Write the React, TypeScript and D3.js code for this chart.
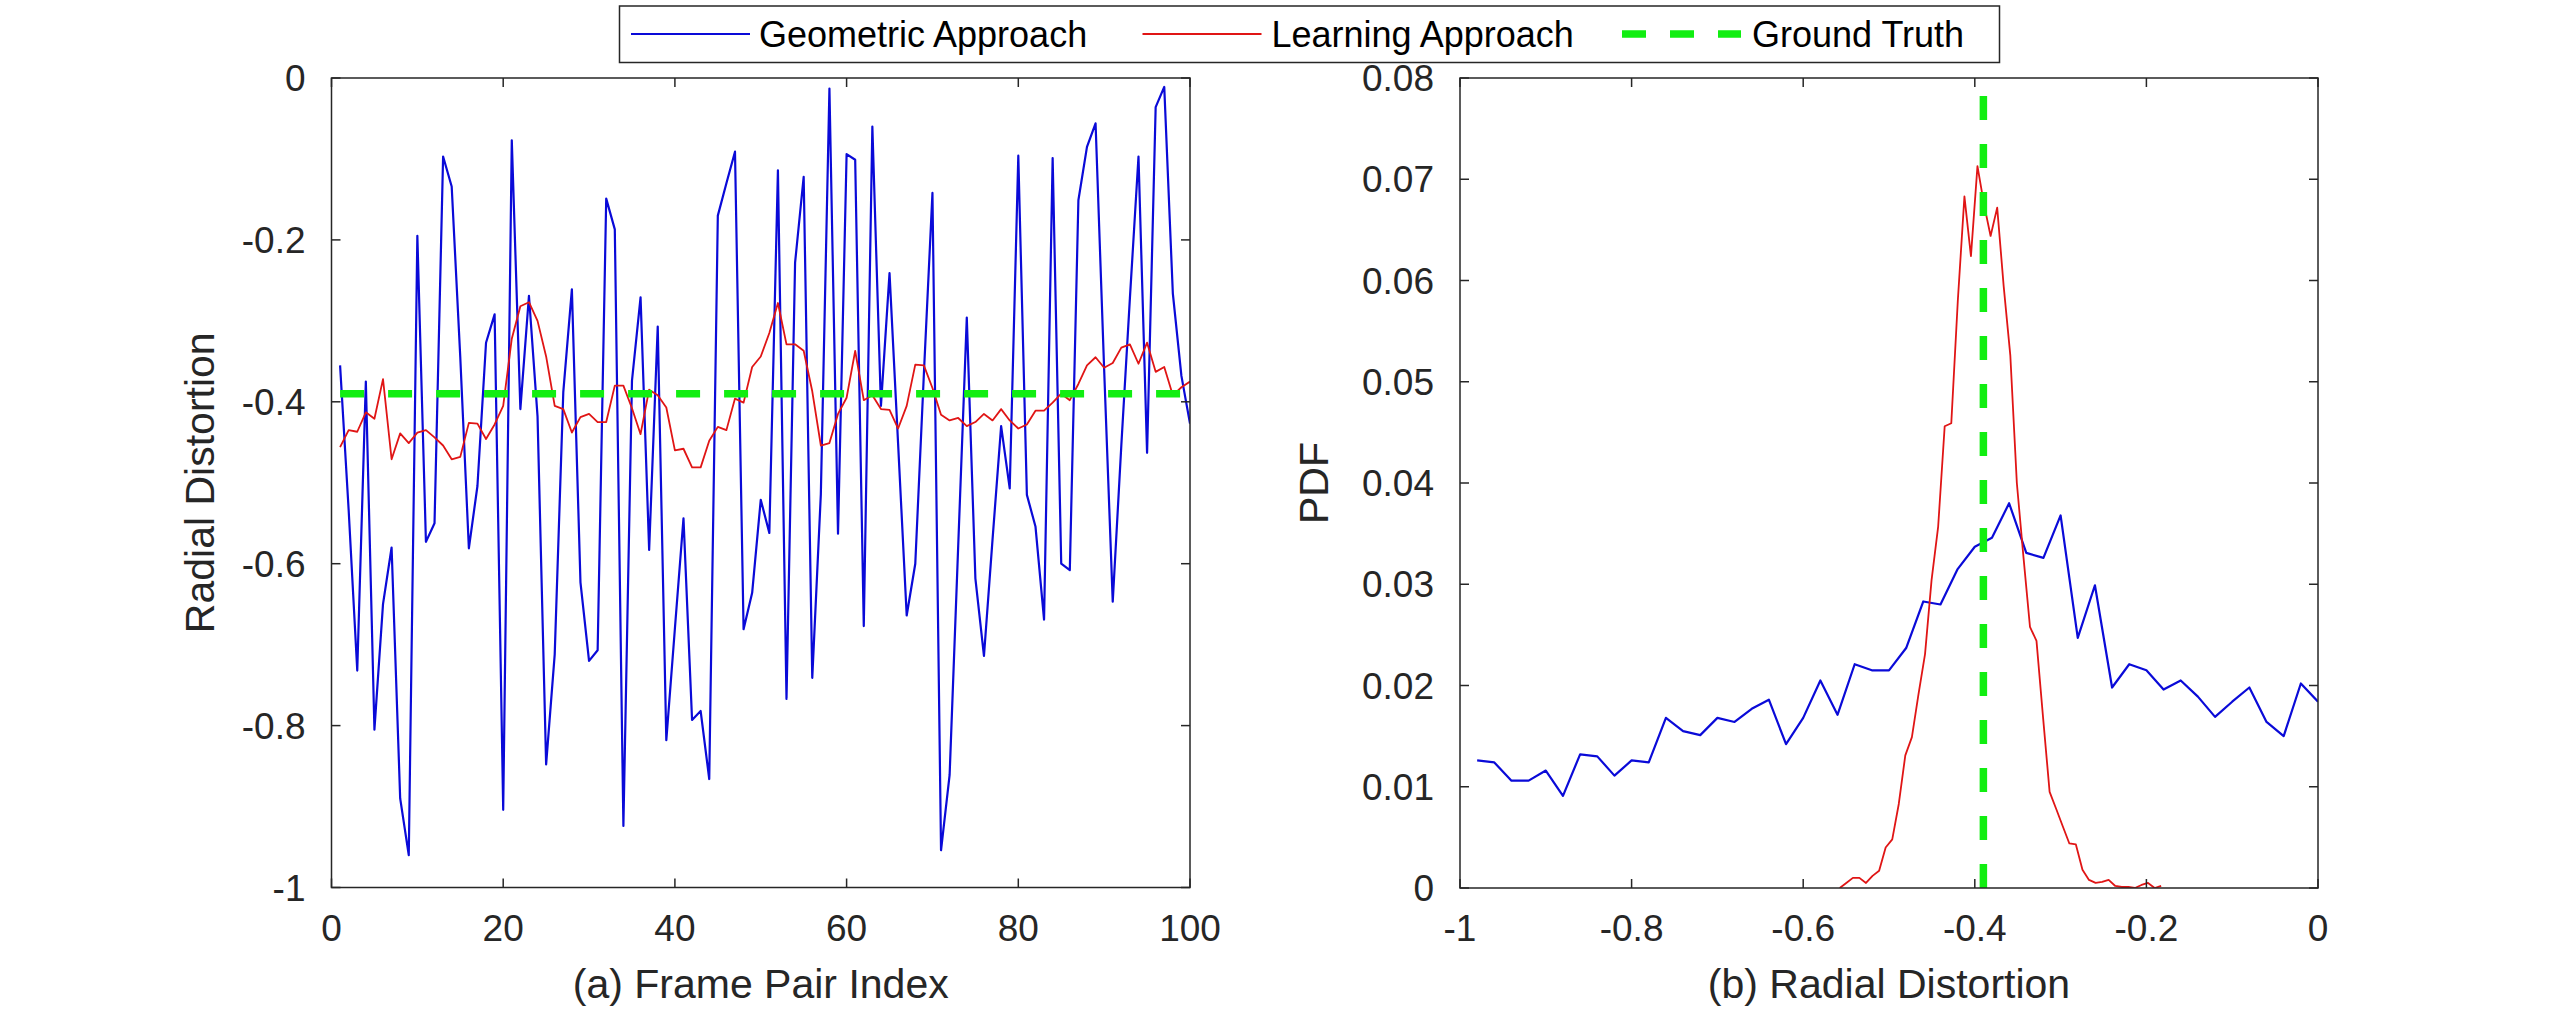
import React from "react";
import * as d3 from "d3";

// ---------- data ----------
const geometricRadial = [
  -0.355, -0.534, -0.732, -0.375, -0.805, -0.65, -0.58, -0.89, -0.96, -0.195,
  -0.573, -0.55, -0.097, -0.134, -0.345, -0.581, -0.504, -0.327, -0.292, -0.904,
  -0.077, -0.409, -0.269, -0.418, -0.848, -0.712, -0.388, -0.261, -0.623, -0.72,
  -0.707, -0.149, -0.187, -0.924, -0.374, -0.271, -0.583, -0.307, -0.818, -0.68,
  -0.544, -0.793, -0.782, -0.866, -0.17, -0.13, -0.091, -0.681, -0.636, -0.521,
  -0.562, -0.114, -0.767, -0.228, -0.122, -0.741, -0.514, -0.013, -0.563, -0.094,
  -0.101, -0.677, -0.06, -0.405, -0.241, -0.452, -0.664, -0.6, -0.366, -0.142,
  -0.954, -0.861, -0.578, -0.296, -0.618, -0.714, -0.57, -0.43, -0.507, -0.096,
  -0.515, -0.554, -0.669, -0.099, -0.6, -0.608, -0.151, -0.085, -0.056, -0.36,
  -0.647, -0.454, -0.272, -0.097, -0.463, -0.036, -0.011, -0.266, -0.368, -0.427,
];

const learningRadial = [
  -0.456, -0.435, -0.437, -0.413, -0.421, -0.372, -0.471, -0.439, -0.451, -0.438,
  -0.435, -0.444, -0.454, -0.471, -0.468, -0.426, -0.427, -0.446, -0.428, -0.405,
  -0.322, -0.282, -0.277, -0.3, -0.344, -0.405, -0.409, -0.438, -0.419, -0.415,
  -0.425, -0.425, -0.38, -0.38, -0.408, -0.44, -0.385, -0.392, -0.407, -0.46,
  -0.458, -0.481, -0.481, -0.448, -0.431, -0.435, -0.396, -0.401, -0.357, -0.344,
  -0.315, -0.278, -0.329, -0.329, -0.337, -0.387, -0.454, -0.451, -0.415, -0.395,
  -0.337, -0.398, -0.392, -0.409, -0.41, -0.433, -0.405, -0.354, -0.355, -0.383,
  -0.416, -0.423, -0.42, -0.43, -0.425, -0.415, -0.423, -0.409, -0.423, -0.433,
  -0.428, -0.411, -0.411, -0.401, -0.39, -0.398, -0.378, -0.355, -0.345, -0.358,
  -0.352, -0.333, -0.329, -0.353, -0.327, -0.363, -0.357, -0.392, -0.382, -0.375,
];

const groundTruth = -0.39;

const pdfGeometricX = [
  -0.98, -0.96, -0.94, -0.92, -0.9, -0.88, -0.86, -0.84, -0.82, -0.8,
  -0.78, -0.76, -0.74, -0.72, -0.7, -0.68, -0.66, -0.64, -0.62, -0.6,
  -0.58, -0.56, -0.54, -0.52, -0.5, -0.48, -0.46, -0.44, -0.42, -0.4,
  -0.38, -0.36, -0.34, -0.32, -0.3, -0.28, -0.26, -0.24, -0.22, -0.2,
  -0.18, -0.16, -0.14, -0.12, -0.1, -0.08, -0.06, -0.04, -0.02, 0,
];
const pdfGeometricY = [
  0.0126, 0.0124, 0.0106, 0.0106, 0.0116, 0.0091, 0.0132, 0.013, 0.0111, 0.0126,
  0.0124, 0.0168, 0.0155, 0.0151, 0.0168, 0.0164, 0.0177, 0.0186, 0.0142, 0.0168,
  0.0205, 0.0171, 0.0221, 0.0215, 0.0215, 0.0237, 0.0283, 0.028, 0.0315, 0.0337,
  0.0346, 0.038, 0.0331, 0.0326, 0.0368, 0.0247, 0.0299, 0.0198, 0.0221, 0.0215,
  0.0196, 0.0205, 0.0189, 0.0169, 0.0184, 0.0198, 0.0164, 0.015, 0.0202, 0.0184,
];

const pdfLearningX = [
  -0.5574, -0.5498, -0.5421, -0.5345, -0.5268, -0.5192, -0.5115, -0.5039, -0.4962, -0.4886,
  -0.481, -0.4733, -0.4657, -0.458, -0.4504, -0.4427, -0.4351, -0.4274, -0.4198, -0.4121,
  -0.4045, -0.3969, -0.3892, -0.3816, -0.3739, -0.3663, -0.3586, -0.351, -0.3433, -0.3357,
  -0.3281, -0.3204, -0.3128, -0.3051, -0.2975, -0.2898, -0.2822, -0.2745, -0.2669, -0.2592,
  -0.2516, -0.244, -0.2363, -0.2287, -0.221, -0.2134, -0.2057, -0.1981, -0.1904, -0.1828,
];
const pdfLearningY = [
  0, 0.0005, 0.001, 0.001, 0.0005, 0.0012, 0.0017, 0.004, 0.0048, 0.0083,
  0.0131, 0.0149, 0.0191, 0.0231, 0.0304, 0.0357, 0.0456, 0.0459, 0.058, 0.0683,
  0.0624, 0.0713, 0.0675, 0.0644, 0.0672, 0.0594, 0.0526, 0.04, 0.0327, 0.0258,
  0.0244, 0.0168, 0.0095, 0.0078, 0.0061, 0.0044, 0.0043, 0.0018, 0.0008, 0.0005,
  0.0006, 0.0008, 0.0002, 0.0001, 0.0001, 0, 0.0003, 0.0005, 0, 0.0002,
];

const leftXTicks = [0, 20, 40, 60, 80, 100];
const leftYTicks = [0, -0.2, -0.4, -0.6, -0.8, -1];
const rightXTicks = [-1, -0.8, -0.6, -0.4, -0.2, 0];
const rightYTicks = [0, 0.01, 0.02, 0.03, 0.04, 0.05, 0.06, 0.07, 0.08];

const seriesNames = ["Geometric Approach", "Learning Approach", "Ground Truth"];

// ---------- style ----------
const FONT = "'Liberation Sans', Arial, Helvetica, sans-serif";
const AXIS = "#262626";
const BLUE = "#0a0ad8";
const RED = "#e01515";
const GREEN = "#11ee11";
const TICK_FS = 37;
const LABEL_FS = 41;
const LEGEND_FS = 36;
const TICK_LEN = 9;

const fmt = (d: number) => {
  const v = +d.toFixed(2);
  return v === 0 ? "0" : String(v);
};

type PanelProps = {
  id: string;
  x: d3.ScaleLinear<number, number>;
  y: d3.ScaleLinear<number, number>;
  xTicks: number[];
  yTicks: number[];
  xLabel: string;
  yLabel: string;
  yLabelX: number;
  children: React.ReactNode;
};

function Panel({ id, x, y, xTicks, yTicks, xLabel, yLabel, yLabelX, children }: PanelProps) {
  const [xa, xb] = x.range();
  const [yb, ya] = y.range(); // yb bottom, ya top
  const cx = (xa + xb) / 2;
  const cy = (ya + yb) / 2;
  return (
    <g>
      <defs>
        <clipPath id={id}>
          <rect x={xa} y={ya} width={xb - xa} height={yb - ya} />
        </clipPath>
      </defs>
      <g clipPath={`url(#${id})`}>{children}</g>
      {/* box */}
      <rect x={xa} y={ya} width={xb - xa} height={yb - ya} fill="none" stroke={AXIS} strokeWidth={1.5} />
      {/* x ticks */}
      {xTicks.map((t) => (
        <g key={"xt" + t}>
          <line x1={x(t)} x2={x(t)} y1={yb} y2={yb - TICK_LEN} stroke={AXIS} strokeWidth={1.5} />
          <line x1={x(t)} x2={x(t)} y1={ya} y2={ya + TICK_LEN} stroke={AXIS} strokeWidth={1.5} />
          <text x={x(t)} y={yb + 53} textAnchor="middle" fontFamily={FONT} fontSize={TICK_FS} fill={AXIS}>
            {fmt(t)}
          </text>
        </g>
      ))}
      {yTicks.map((t) => (
        <g key={"yt" + t}>
          <line x1={xa} x2={xa + TICK_LEN} y1={y(t)} y2={y(t)} stroke={AXIS} strokeWidth={1.5} />
          <line x1={xb} x2={xb - TICK_LEN} y1={y(t)} y2={y(t)} stroke={AXIS} strokeWidth={1.5} />
          <text x={xa - 26} y={y(t) + 13} textAnchor="end" fontFamily={FONT} fontSize={TICK_FS} fill={AXIS}>
            {fmt(t)}
          </text>
        </g>
      ))}
      <text x={cx} y={998} textAnchor="middle" fontFamily={FONT} fontSize={LABEL_FS} fill={AXIS}>
        {xLabel}
      </text>
      <text
        transform={`translate(${yLabelX},${cy}) rotate(-90)`}
        textAnchor="middle"
        fontFamily={FONT}
        fontSize={LABEL_FS}
        fill={AXIS}
      >
        {yLabel}
      </text>
    </g>
  );
}

export default function App() {
  const xL = d3.scaleLinear().domain([0, 100]).range([331.5, 1190]);
  const yL = d3.scaleLinear().domain([-1, 0]).range([887.5, 78]);
  const xR = d3.scaleLinear().domain([-1, 0]).range([1460, 2318]);
  const yR = d3.scaleLinear().domain([0, 0.08]).range([888, 78]);

  const lineL = d3
    .line<number>()
    .x((_, i) => xL(i + 1))
    .y((d) => yL(d));

  const geoPdf = pdfGeometricX.map((v, i) => [v, pdfGeometricY[i]] as [number, number]);
  const learnPdf = pdfLearningX.map((v, i) => [v, pdfLearningY[i]] as [number, number]);
  const lineR = d3
    .line<[number, number]>()
    .x((d) => xR(d[0]))
    .y((d) => yR(d[1]));

  const colors = [BLUE, RED, GREEN];
  const legendItems = [
    { lx: 631, tx: 759 },
    { lx: 1142.5, tx: 1271.5 },
    { lx: 1622, tx: 1752 },
  ];

  return (
    <svg
      width={2560}
      height={1013}
      style={{ position: "absolute", left: 0, top: 0, background: "#fff" }}
    >
      <rect x={0} y={0} width={2560} height={1013} fill="#fff" />

      <Panel
        id="clipL"
        x={xL}
        y={yL}
        xTicks={leftXTicks}
        yTicks={leftYTicks}
        xLabel="(a) Frame Pair Index"
        yLabel="Radial Distortion"
        yLabelX={214}
      >
        <path d={lineL(geometricRadial) || ""} fill="none" stroke={BLUE} strokeWidth={2.2} strokeLinejoin="round" />
        <path d={lineL(learningRadial) || ""} fill="none" stroke={RED} strokeWidth={1.8} strokeLinejoin="round" />
        <line
          x1={xL(1)}
          x2={xL(geometricRadial.length)}
          y1={yL(groundTruth)}
          y2={yL(groundTruth)}
          stroke={GREEN}
          strokeWidth={7.5}
          strokeDasharray="24 24"
        />
      </Panel>

      <Panel
        id="clipR"
        x={xR}
        y={yR}
        xTicks={rightXTicks}
        yTicks={rightYTicks}
        xLabel="(b) Radial Distortion"
        yLabel="PDF"
        yLabelX={1328}
      >
        <path d={lineR(geoPdf) || ""} fill="none" stroke={BLUE} strokeWidth={2.2} strokeLinejoin="round" />
        <path d={lineR(learnPdf) || ""} fill="none" stroke={RED} strokeWidth={1.8} strokeLinejoin="round" />
        <line
          x1={xR(groundTruth)}
          x2={xR(groundTruth)}
          y1={yR(0)}
          y2={yR(0.08)}
          stroke={GREEN}
          strokeWidth={7.5}
          strokeDasharray="24 24"
        />
      </Panel>

      {/* legend */}
      <g>
        <rect x={619.5} y={6} width={1380} height={56.5} fill="#fff" stroke={AXIS} strokeWidth={1.5} />
        {seriesNames.map((name, i) => (
          <g key={name}>
            <line
              x1={legendItems[i].lx}
              x2={legendItems[i].lx + 119}
              y1={34}
              y2={34}
              stroke={colors[i]}
              strokeWidth={i === 2 ? 7.5 : 2}
              strokeDasharray={i === 2 ? "24 24" : undefined}
            />
            <text x={legendItems[i].tx} y={47} fontFamily={FONT} fontSize={LEGEND_FS} fill="#000">
              {name}
            </text>
          </g>
        ))}
      </g>
    </svg>
  );
}
